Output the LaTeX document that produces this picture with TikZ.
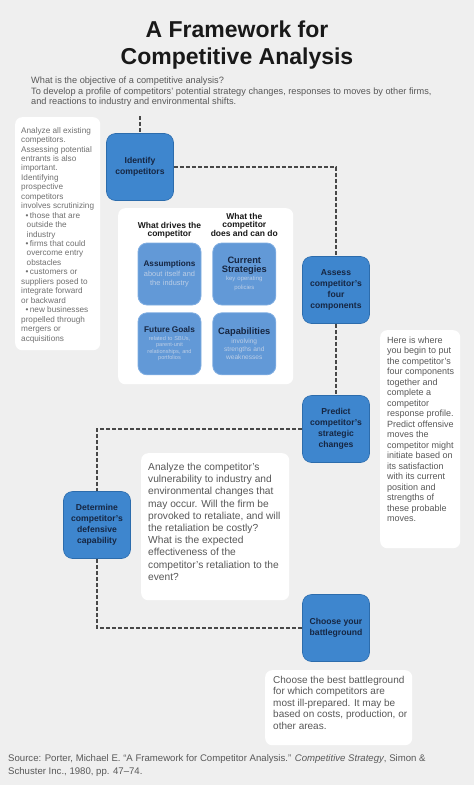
\documentclass[tikz,border=0pt]{standalone}
\usepackage{fontspec}
\setmainfont{Liberation Sans}
\usetikzlibrary{positioning}

\definecolor{bgray}{RGB}{239,239,239}
\definecolor{stageblue}{RGB}{62,134,206}
\definecolor{stageline}{RGB}{44,108,172}
\definecolor{partblue}{RGB}{98,153,215}
\definecolor{partline}{RGB}{128,174,226}
\definecolor{navy}{RGB}{22,38,66}
\definecolor{subtle}{RGB}{188,206,230}
\definecolor{bodygray}{RGB}{88,88,88}
\definecolor{softgray}{RGB}{112,112,112}
\definecolor{dashgray}{RGB}{72,72,72}

\newcommand{\fs}[2]{\fontsize{#1}{#2}\selectfont}
\newcommand{\lbul}{\hspace*{4.5pt}\textbullet\,}
\newcommand{\lind}{\hspace*{5.5pt}}

\begin{document}
\begin{tikzpicture}[
  x=1pt,y=-1pt,
  stage/.style={draw=stageline,fill=stageblue,line width=0.6pt,rounded corners=9pt,
                minimum width=67pt,minimum height=67pt,inner sep=2pt,align=center,
                text=navy,font=\fs{8.6}{11}\bfseries},
  part/.style={draw=partline,fill=partblue,line width=0.8pt,rounded corners=9pt,
               minimum width=63pt,minimum height=62pt,inner sep=2pt,text width=59pt,
               align=center,text=navy},
  card/.style={fill=white,rounded corners=7pt,inner sep=0pt,anchor=north west},
  txt/.style={anchor=north west,inner sep=0pt,align=left,text=bodygray},
  head/.style={align=center,inner sep=0pt,font=\fs{8.5}{8.5}\bfseries,text=black!90},
  flow/.style={draw=dashgray,line width=1.1pt,dash pattern=on 4pt off 2pt},
]
\fill[bgray] (0,0) rectangle (474,785);
\useasboundingbox (0,0) rectangle (474,785);

% heading
\node[align=center,inner sep=0pt,anchor=north,text=black!90,font=\fs{23}{27}\bfseries]
  (title) at (237,20.4) {A Framework for\\Competitive Analysis};
\node[txt,font=\fs{9.2}{10.9}] (intro) at (31,76.3)
  {What is the objective of a competitive analysis?\\
   To develop a profile of competitors' potential strategy changes, responses to moves by other firms,\\
   and reactions to industry and environmental shifts.};

% white cards
\node[card,minimum width=85pt,minimum height=233pt] (lcard) at (15,117) {};
\node[card,minimum width=175pt,minimum height=176pt] (panel) at (118,208) {};
\node[card,minimum width=80pt,minimum height=218pt] (rcard) at (380,330) {};
\node[card,minimum width=148pt,minimum height=147pt] (mcard) at (141,453) {};
\node[card,minimum width=147pt,minimum height=75pt] (bcard) at (265,670) {};

% card texts
\node[txt,text=softgray,font=\fs{8.2}{9.45}] (ltxt) at (21,127)
  {Analyze all existing\\competitors.\\Assessing potential\\entrants is also\\important.\\
   Identifying\\prospective\\competitors\\involves scrutinizing\\
   \lbul those that are\\\lind outside the\\\lind industry\\
   \lbul firms that could\\\lind overcome entry\\\lind obstacles\\
   \lbul customers or\\suppliers posed to\\integrate forward\\or backward\\
   \lbul new businesses\\propelled through\\mergers or\\acquisitions};
\node[txt,font=\fs{9}{10.5}] (rtxt) at (387,336.5)
  {Here is where\\you begin to put\\the competitor's\\four components\\together and\\complete a\\
   competitor\\response profile.\\Predict offensive\\moves the\\competitor might\\initiate based on\\
   its satisfaction\\with its current\\position and\\strengths of\\these probable\\moves.};
\node[txt,font=\fs{10.2}{12.2}] (mtxt) at (148,463)
  {Analyze the competitor's\\vulnerability to industry and\\environmental changes that\\
   may occur. Will the firm be\\provoked to retaliate, and will\\the retaliation be costly?\\
   What is the expected\\effectiveness of the\\competitor's retaliation to the\\event?};
\node[txt,font=\fs{10}{11.5}] (btxt) at (273,676)
  {Choose the best battleground\\for which competitors are\\most ill-prepared. It may be\\
   based on costs, production, or\\other areas.};

% four components
\node[part,font=\fs{7.4}{9.6}] (assume) at (169.5,274)
  {{\fs{8.2}{9.5}\bfseries Assumptions}\\{\color{subtle}about itself and\\the industry}};
\node[part,font=\fs{6}{8.5},right=11pt of assume] (strat)
  {{\fs{9.3}{10}\bfseries Current\\Strategies}\\{\color{subtle}key operating\\policies}};
\node[part,font=\fs{5.6}{6.6},below=7pt of assume] (goals)
  {{\fs{8.3}{9}\bfseries Future Goals}\\[1pt]{\color{subtle}related to SBUs,\\parent-unit\\relationships, and\\portfolios}};
\node[part,font=\fs{6.6}{8.2},right=11pt of goals] (capab)
  {{\fs{9.3}{9.5}\bfseries Capabilities}\\{\color{subtle}involving\\strengths and\\weaknesses}};
\node[head,above=4pt of assume] (drives) {What drives the\\competitor};
\node[head,above=6pt of strat] (does) {What the\\competitor\\does and can do};

% process steps
\coordinate (top) at (140,116);
\node[stage] (ident) at (140,167) {Identify\\competitors};
\node[stage] (assess) at (336,290) {Assess\\competitor's\\four\\components};
\node[stage] (predict) at (336,429) {Predict\\competitor's\\strategic\\changes};
\node[stage] (defend) at (97,525) {Determine\\competitor's\\defensive\\capability};
\node[stage] (battle) at (336,628) {Choose your\\battleground};

\draw[flow] (top) -- (ident.north);
\draw[flow] (ident.east) -| (assess.north);
\draw[flow] (assess) -- (predict);
\draw[flow] (predict.west) -| (defend.north);
\draw[flow] (defend.south) |- (battle.west);

% source line
\node[txt,font=\fs{9.6}{13}] (source) at (8,754.5)
  {Source: Porter, Michael E. “A Framework for Competitor Analysis.” \textit{Competitive Strategy}, Simon \&\\
   Schuster Inc., 1980, pp. 47--74.};
\end{tikzpicture}
\end{document}
